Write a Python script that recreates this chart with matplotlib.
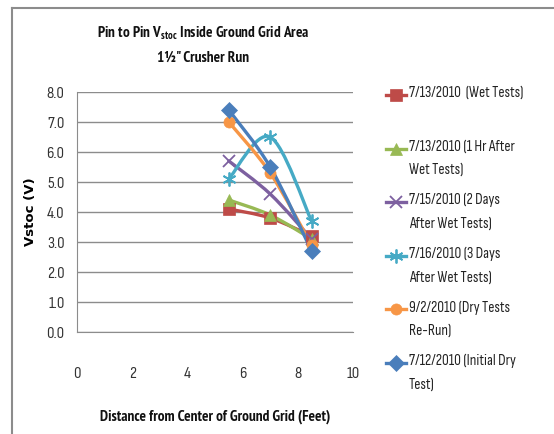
import numpy as np
import matplotlib
matplotlib.use("Agg")
import matplotlib.pyplot as plt
from matplotlib.path import Path
from matplotlib.patches import PathPatch
from matplotlib.lines import Line2D

plt.rcParams['font.family'] = ['Sofia Sans Condensed', 'DejaVu Sans']
bold_family = ['PT Sans Narrow', 'Sofia Sans Condensed', 'DejaVu Sans']

# distance from grid centre (feet) and measured Vstoc per test
distance = [5.5, 7.0, 8.5]
wet_tests = [4.1, 3.8, 3.2]
hr1_after = [4.4, 3.9, 3.1]
days2_after = [5.7, 4.6, 3.1]
days3_after = [5.1, 6.5, 3.7]
dry_rerun = [7.0, 5.3, 2.9]
initial_dry = [7.4, 5.5, 2.7]

labels = ["7/13/2010  (Wet Tests)\n",
          "7/13/2010 (1 Hr After\nWet Tests)",
          "7/15/2010 (2 Days\nAfter Wet Tests)",
          "7/16/2010 (3 Days\nAfter Wet Tests)",
          "9/2/2010 (Dry Tests\nRe-Run)",
          "7/12/2010 (Initial Dry\nTest)"]
series = [wet_tests, hr1_after, days2_after, days3_after, dry_rerun, initial_dry]
colors = ['#BE4B48', '#98B954', '#7D60A0', '#46AAC5', '#F79646', '#4A7EBB']
markers = ['s', '^', 'x', (6, 2, 0), 'o', 'D']
msizes = [8, 8, 9, 10, 8, 8]


def smooth_path(xs, ys):
    # Excel-style smoothed line as cubic bezier segments
    pts = np.column_stack([xs, ys]).astype(float)
    n = len(pts)
    verts = [pts[0]]
    codes = [Path.MOVETO]
    for i in range(n - 1):
        p0 = pts[max(i - 1, 0)]
        p1 = pts[i]
        p2 = pts[i + 1]
        p3 = pts[min(i + 2, n - 1)]
        c1 = p1 + (p2 - p0) / 6.0
        c2 = p2 - (p3 - p1) / 6.0
        verts += [c1, c2, p2]
        codes += [Path.CURVE4] * 3
    return Path(verts, codes)


fig = plt.figure(figsize=(5.54, 4.34), dpi=100)
ax = fig.add_axes([77 / 554, 1 - 332 / 434, 276 / 554, 240 / 434])

for ys, c, m, ms in zip(series, colors, markers, msizes):
    ax.add_patch(PathPatch(smooth_path(distance, ys), fill=False, edgecolor=c,
                           lw=2.4, zorder=3, capstyle='round'))
    ax.plot(distance, ys, linestyle='none', marker=m, color=c, markersize=ms,
            markeredgewidth=1.3 if m in ('x', (6, 2, 0)) else 0.5,
            markeredgecolor=c, zorder=4)

ax.set_xlim(0, 10)
ax.set_ylim(0, 8)
ax.set_xticks(np.arange(0, 11, 2))
ax.set_yticks(np.arange(0, 8.5, 1))
ax.set_yticklabels([f"{v:.1f}" for v in np.arange(0, 8.5, 1)])
ax.grid(axis='y', color='#8C8C8C', lw=1)
ax.set_axisbelow(True)
for s in ['top', 'right']:
    ax.spines[s].set_visible(False)
for s in ['left', 'bottom']:
    ax.spines[s].set_color('#8C8C8C')
ax.tick_params(length=0, labelsize=12, colors='#333333')
ax.tick_params(axis='x', pad=25)
ax.tick_params(axis='y', pad=9)

ax.set_xlabel("Distance from Center of Ground Grid (Feet)", fontsize=11,
              labelpad=21, color='#111111', fontweight='bold', family=bold_family)
ax.set_ylabel("Vstoc (V)", fontsize=9.5, fontweight='bold',
              family=['DejaVu Sans'], labelpad=7)

fig.text(203 / 554, 1 - 33 / 434, "Pin to Pin V$_{\\mathregular{stoc}}$ Inside Ground Grid Area",
         ha='center', va='center', fontsize=11, color='#111111',
         fontweight='bold', family=bold_family)
fig.text(203 / 554, 1 - 58 / 434, "1\u00bd\" Crusher Run", ha='center', va='center',
         fontsize=11, color='#111111', fontweight='bold', family=bold_family)

# legend drawn by hand, two text lines per entry
for i, (lab, c, m, ms) in enumerate(zip(labels, colors, markers, msizes)):
    y = 1 - (95 + 53.6 * i) / 434
    fig.add_artist(Line2D([386 / 554, 406 / 554], [y, y], transform=fig.transFigure,
                          color=c, lw=2.4))
    fig.add_artist(Line2D([396 / 554], [y], transform=fig.transFigure, color=c,
                          marker=m, markersize=ms,
                          markeredgewidth=1.3 if m in ('x', (6, 2, 0)) else 0.5))
    fig.text(409 / 554, y + 9 / 434, lab, ha='left', va='top', fontsize=11,
             linespacing=1.85, color='#222222')

# chart frame
fig.add_artist(Line2D([12 / 554, 1], [1 - 8 / 434, 1 - 8 / 434],
                      transform=fig.transFigure, color='#8C8C8C', lw=1.5))
fig.add_artist(Line2D([12 / 554, 12 / 554], [0, 1 - 8 / 434],
                      transform=fig.transFigure, color='#8C8C8C', lw=1.5))

fig.savefig("out.png", dpi=100)
